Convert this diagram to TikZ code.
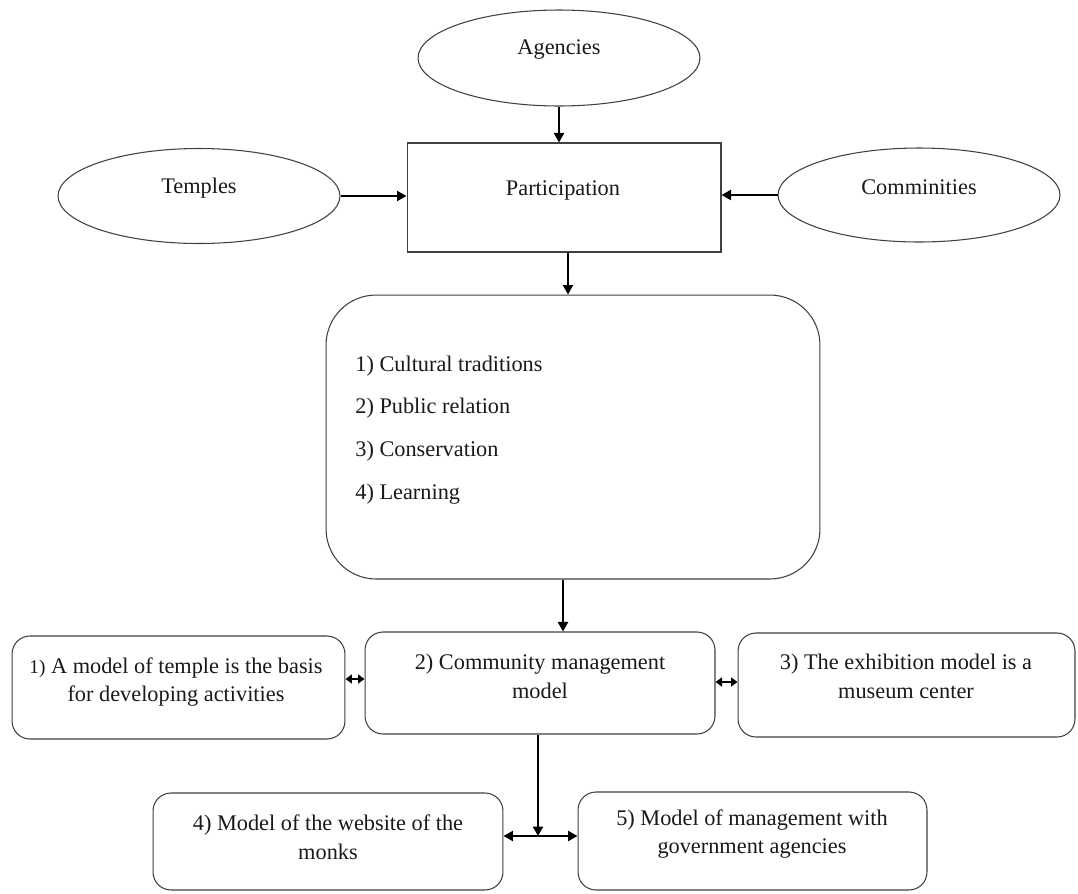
\documentclass[tikz,border=0pt]{standalone}
\usepackage{fontspec}
\setmainfont{Liberation Serif}
\usetikzlibrary{shapes.geometric,arrows.meta}
\begin{document}
\begin{tikzpicture}[x=0.02cm,y=-0.02cm,
  every node/.style={font=\fontsize{12.7}{16.4}\selectfont, text=black!90},
  oval/.style={draw=black!75, line width=0.6pt, ellipse, inner sep=0pt},
  sqbox/.style={draw=black!75, line width=0.6pt, rectangle, inner sep=0pt},
  rbox/.style={draw=black!75, line width=0.6pt, rectangle, rounded corners=0.36cm, inner sep=0pt},
  bigbox/.style={draw=black!75, line width=0.6pt, rectangle, rounded corners=1cm, inner sep=0pt},
  conn/.style={line width=1.25pt, -{Triangle[length=0.19cm,width=0.2cm]}},
  dbl/.style={line width=1.25pt, {Triangle[length=0.19cm,width=0.2cm]}-{Triangle[length=0.19cm,width=0.2cm]}},
  sdbl/.style={line width=1.25pt, {Triangle[length=0.13cm,width=0.18cm]}-{Triangle[length=0.13cm,width=0.18cm]}},
  txt/.style={align=center, inner sep=0pt}
]
\fill[white] (0,0) rectangle (1078,893);
\useasboundingbox (0,0) rectangle (1078,893);

% ellipses
\node[oval, minimum width=5.64cm, minimum height=1.92cm] (agencies) at (559,58) {};
\node[txt] (agenciesT) at (559,50) {Agencies};
\node[oval, minimum width=5.64cm, minimum height=1.9cm] (temples) at (199,196) {};
\node[txt] (templesT) at (199,188) {Temples};
\node[oval, minimum width=5.64cm, minimum height=1.88cm] (comm) at (919,195) {};
\node[txt] (commT) at (919,187) {Comminities};

% participation
\node[sqbox, minimum width=6.28cm, minimum height=2.18cm] (part) at (564,197.5) {};
\node[txt] (partT) at (563,190) {Participation};

% big box
\node[bigbox, minimum width=9.88cm, minimum height=5.68cm] (big) at (573,437) {};
\node[align=left, anchor=west, inner sep=0pt, font=\fontsize{12.7}{24.4}\selectfont] (list) at (355,430)
  {1) Cultural traditions\\2) Public relation\\3) Conservation\\4) Learning};

% middle row
\node[rbox, minimum width=6.66cm, minimum height=2.06cm] (lb) at (178.5,687.5) {};
\node[txt] (lbT) at (176,682) {{\fontsize{11}{12}\selectfont 1)} A model of temple is the basis\\for developing activities};
\node[rbox, minimum width=7.0cm, minimum height=2.04cm] (cm) at (540,683) {};
\node[txt] (cmT) at (540,676) {2) Community management\\model};
\node[rbox, minimum width=6.74cm, minimum height=2.08cm] (rb) at (906.5,685) {};
\node[txt] (rbT) at (906,676) {3) The exhibition model is a\\museum center};

% bottom row
\node[rbox, minimum width=7.0cm, minimum height=1.94cm] (bl) at (328,841.5) {};
\node[txt] (blT) at (328,837) {4) Model of the website of the\\monks};
\node[rbox, minimum width=6.98cm, minimum height=1.96cm] (br) at (752.5,841) {};
\node[txt] (brT) at (752,834) {5) Model of management with\\government agencies};

% connectors
\draw[conn] (agencies.south) -- (agencies.south |- part.north);
\draw[conn] (temples.east) -- (temples.east -| part.west);
\draw[conn] (comm.west) -- (comm.west -| part.east);
\draw[conn] (568,0 |- part.south) -- (568,0 |- big.north);
\draw[conn] (563,0 |- big.south) -- (563,0 |- cm.north);
\draw[sdbl] (lb.east |- 0,679) -- (cm.west |- 0,679);
\draw[sdbl] (cm.east |- 0,682) -- (rb.west |- 0,682);
\coordinate (j) at (538,836);
\draw[conn] (538,0 |- cm.south) -- (j);
\draw[dbl] (bl.east |- j) -- (br.west |- j);
\end{tikzpicture}
\end{document}
